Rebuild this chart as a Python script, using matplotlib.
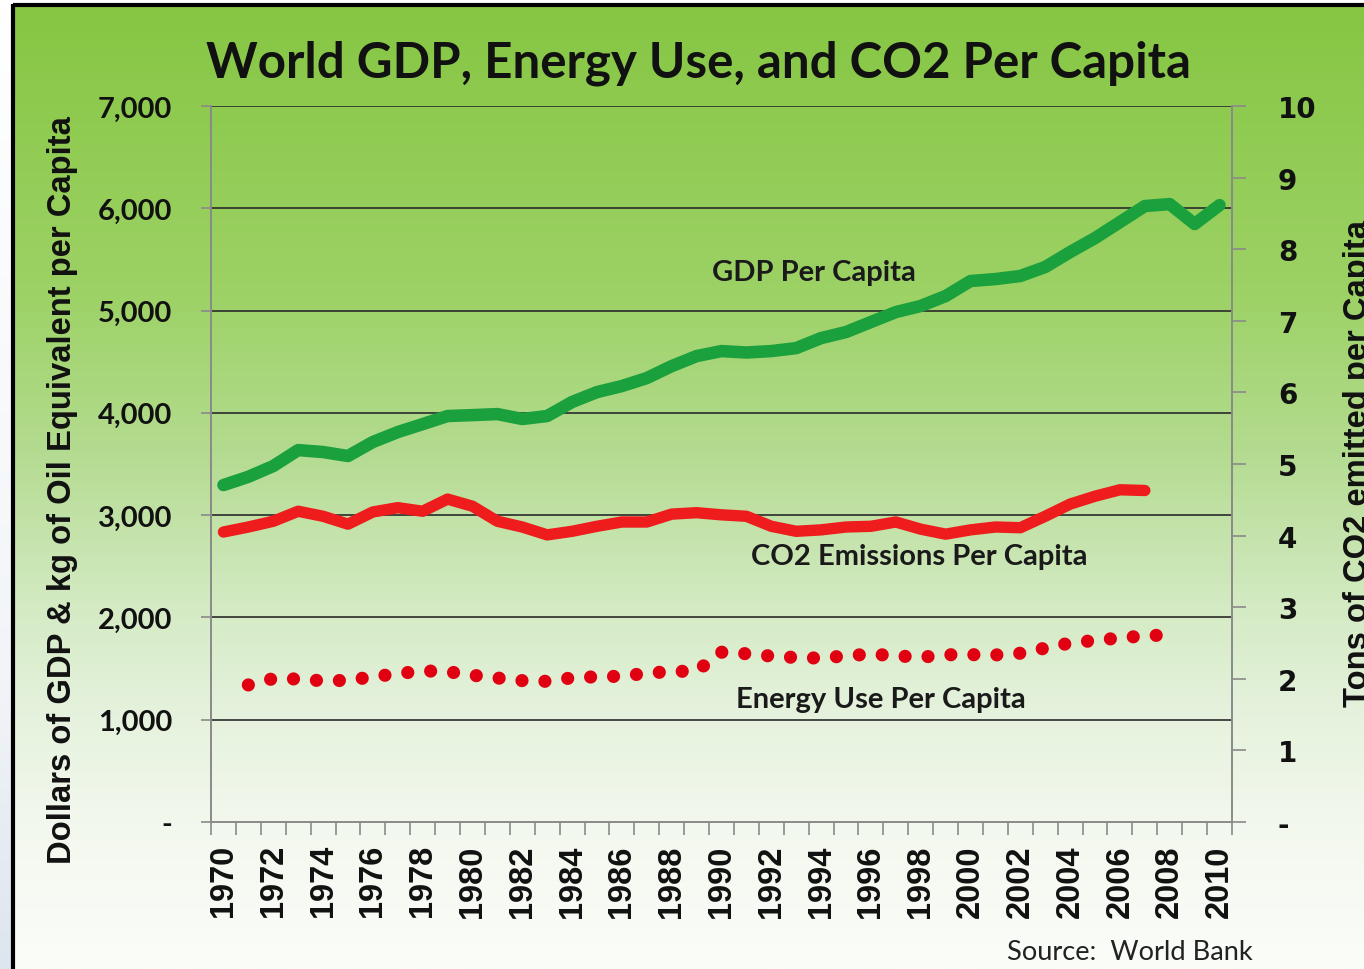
import numpy as np
import matplotlib
matplotlib.use("Agg")
import matplotlib.pyplot as plt
from matplotlib.colors import LinearSegmentedColormap
from matplotlib.ticker import FixedLocator, FuncFormatter

# ---------------- data ----------------
years = list(range(1970, 2011))
gdp = [3294, 3375, 3480, 3636, 3617, 3578, 3715, 3812, 3890, 3969,
       3978, 3988, 3940, 3969, 4106, 4203, 4262, 4340, 4457, 4555,
       4604, 4590, 4604, 4633, 4731, 4790, 4888, 4985, 5045, 5142,
       5289, 5308, 5338, 5426, 5572, 5709, 5865, 6022, 6041, 5846, 6031]

co2_years = list(range(1970, 2008))
co2 = [4.05, 4.12, 4.20, 4.34, 4.27, 4.16, 4.33, 4.39, 4.34, 4.51,
       4.41, 4.20, 4.12, 4.01, 4.06, 4.13, 4.19, 4.19, 4.30, 4.32,
       4.29, 4.27, 4.13, 4.06, 4.08, 4.12, 4.13, 4.19, 4.09, 4.02,
       4.08, 4.12, 4.11, 4.27, 4.44, 4.55, 4.64, 4.63]

energy_years = list(range(1971, 2009))
energy = [1340, 1402, 1398, 1380, 1385, 1420, 1450, 1478, 1470, 1435,
          1408, 1382, 1375, 1410, 1420, 1425, 1455, 1472, 1475, 1660,
          1645, 1622, 1608, 1602, 1625, 1642, 1625, 1610, 1635, 1636,
          1633, 1650, 1700, 1750, 1775, 1800, 1820, 1830]

left_ticks = [0, 1000, 2000, 3000, 4000, 5000, 6000, 7000]
right_ticks = [0, 1, 2, 3, 4, 5, 6, 7, 8, 9, 10]
xlabel_years = list(range(1970, 2011, 2))

title = "World GDP, Energy Use, and CO2 Per Capita"
left_label = "Dollars of GDP & kg of Oil Equivalent per Capita"
right_label = "Tons of CO2 emitted per Capita"
source = "Source:  World Bank"

# ---------------- figure ----------------
W, H = 1364, 970
DPI = 100
fig = plt.figure(figsize=(W / DPI, H / DPI), dpi=DPI, facecolor="white")

def fx(px):
    return px / W

def fy(py):
    return 1 - py / H

# background gradient
bg = fig.add_axes([0, 0, 1, 1], zorder=0)
bg.set_xlim(0, W)
bg.set_ylim(H, 0)
bg.axis("off")
stops = [(0.0, "#86c643"), (0.30, "#9dd266"), (0.46, "#b3db8f"),
         (0.62, "#d3eac2"), (0.72, "#e3f1da"), (0.85, "#f3f8ee"), (1.0, "#fbfdf9")]
cmap = LinearSegmentedColormap.from_list("bg", stops)
grad = np.linspace(0, 1, 512).reshape(-1, 1)
bg.imshow(grad, cmap=cmap, aspect="auto", extent=(14, W, H, 7), zorder=0)
# left strip outside frame
strip = np.linspace(0, 1, 256).reshape(-1, 1)
scmap = LinearSegmentedColormap.from_list("strip", [(0, "#ffffff"), (0.7, "#f2f5f8"), (1, "#dde5ee")])
bg.imshow(strip, cmap=scmap, aspect="auto", extent=(0, 12, H, 7), zorder=0)
# frame lines
bg.plot([13, W], [6, 6], color="black", lw=3, solid_capstyle="butt", zorder=2)
bg.plot([13, 13], [5, H], color="black", lw=3, solid_capstyle="butt", zorder=2)

# main axes
ax_l, ax_r, ax_t, ax_b = 211, 1232, 107, 823
ax = fig.add_axes([fx(ax_l), fy(ax_b), fx(ax_r - ax_l), (ax_b - ax_t) / H], zorder=2)
ax.set_facecolor("none")
ax2 = ax.twinx()
ax2.set_facecolor("none")

ax.set_xlim(1969.5, 2010.5)
ax.set_ylim(0, 7000)
ax2.set_ylim(0, 10)

# grid lines
for v in left_ticks[1:]:
    ax.axhline(v, color="#2a2a2a", lw=1.2, zorder=1)

# series
ax.plot(years, gdp, color="#1aa03c", lw=9.0, solid_joinstyle="round",
        solid_capstyle="round", zorder=4)
ax2.plot(co2_years, co2, color="#ee1c1c", lw=8.2, solid_joinstyle="round",
         solid_capstyle="round", zorder=4)
ax.plot(energy_years, energy, color="#e00012", lw=9.5,
        linestyle=(0, (0.001, 1.74)), dash_capstyle="round", zorder=4)

# spines
for a in (ax, ax2):
    a.spines["top"].set_visible(False)
    a.spines["left"].set_color("#8a8a8a")
    a.spines["right"].set_color("#8a8a8a")
    a.spines["bottom"].set_color("#8a8a8a")
    for s in a.spines.values():
        s.set_linewidth(1.2)

# left ticks
ax.yaxis.set_major_locator(FixedLocator(left_ticks))
ax.yaxis.set_major_formatter(FuncFormatter(lambda v, p: "-" if v == 0 else f"{int(v):,}"))
ax.tick_params(axis="y", direction="out", length=7, width=1.2, color="#8a8a8a", pad=21)
for t in ax.get_yticklabels():
    t.set_fontfamily("Lato")
    t.set_fontweight("bold")
    t.set_fontsize(21)
    t.set_color("#111111")

# right ticks
ax2.yaxis.set_major_locator(FixedLocator(right_ticks))
ax2.yaxis.set_major_formatter(FuncFormatter(lambda v, p: "-" if v == 0 else f"{int(v)}"))
ax2.tick_params(axis="y", direction="out", length=10, width=1.2, color="#8a8a8a", pad=23)
for t in ax2.get_yticklabels():
    t.set_fontfamily("DejaVu Sans")
    t.set_fontweight("bold")
    t.set_fontsize(20)
    t.set_color("#111111")

# x ticks
ax.xaxis.set_major_locator(FixedLocator(xlabel_years))
ax.xaxis.set_major_formatter(FuncFormatter(lambda v, p: f"{int(v)}"))
ax.xaxis.set_minor_locator(FixedLocator(np.arange(1969.5, 2011, 1.0)))
ax.tick_params(axis="x", which="major", length=0, pad=16)
ax.tick_params(axis="x", which="minor", direction="out", length=9.5, width=1.2, color="#8a8a8a")
for t in ax.get_xticklabels():
    t.set_rotation(90)
    t.set_fontfamily("Liberation Sans")
    t.set_fontweight("bold")
    t.set_fontsize(23.5)
    t.set_color("#111111")

# series labels
lab_kw = dict(fontfamily="Lato", fontweight="bold", fontsize=21, color="#1a1a1a",
              ha="center", va="center", zorder=5)
ax.text(1993.7, 5377, "GDP Per Capita", **lab_kw)
ax.text(1997.95, 2600, "CO2 Emissions Per Capita", **lab_kw)
ax.text(1996.4, 1202, "Energy Use Per Capita", **lab_kw)

# titles and axis labels
fig.text(fx(698), fy(63), title, fontfamily="Lato", fontweight="bold", fontsize=35.5,
         color="#111111", ha="center", va="center", zorder=5)
fig.text(fx(63), fy(490), left_label, rotation=90, fontfamily="Liberation Sans",
         fontweight="bold", fontsize=23.6, color="#111111", ha="center", va="center")
fig.text(fx(1343), fy(707), right_label, rotation=90, fontfamily="Liberation Sans",
         fontweight="bold", fontsize=23.6, color="#111111", ha="left", va="bottom")
fig.text(fx(1253), fy(953), source, fontfamily="Lato", fontsize=19.6,
         color="#222222", ha="right", va="center")

fig.savefig("out.png", dpi=DPI, facecolor=fig.get_facecolor())
